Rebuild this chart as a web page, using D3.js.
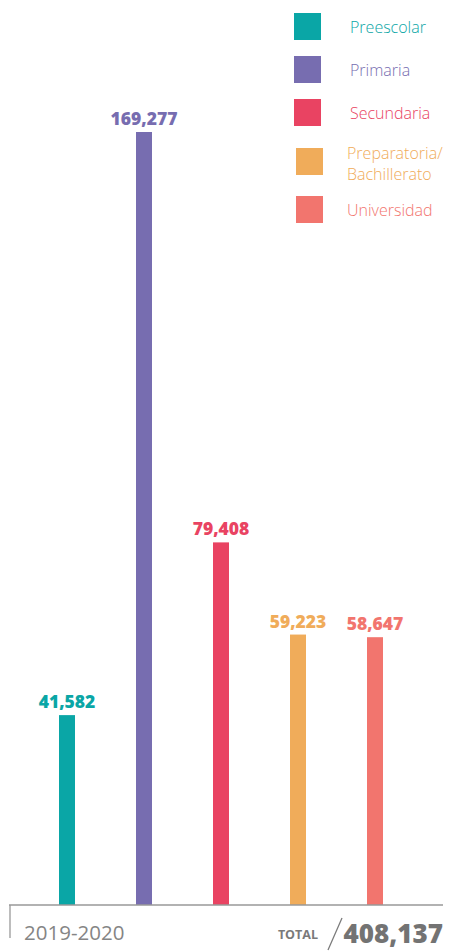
<!DOCTYPE html>
<html>
<head>
<meta charset="utf-8">
<script src="https://cdn.jsdelivr.net/npm/d3@7"></script>
<style>
  body { margin: 0; background: #fff; }
  svg { display: block; }
</style>
</head>
<body>
<svg width="451" height="951"></svg>
<script>
var categories = ["Preescolar", "Primaria", "Secundaria", "Preparatoria/Bachillerato", "Universidad"];
var legendLines = [["Preescolar"], ["Primaria"], ["Secundaria"], ["Preparatoria/", "Bachillerato"], ["Universidad"]];
var values = [41582, 169277, 79408, 59223, 58647];
var colors = ["#0aa6a6", "#776db0", "#e94362", "#f0ac5a", "#f2756e"];
var periodLabel = "2019-2020";
var totalLabel = "TOTAL";
var totalValue = 408137;

var svg = d3.select("svg");
var fmt = d3.format(",");

var scaleX = d3.scalePoint()
    .domain(categories)
    .range([67, 375]);

var scaleY = d3.scaleLinear()
    .domain([0, 169277])
    .range([905, 132]);

var color = d3.scaleOrdinal().domain(categories).range(colors);

var data = categories.map(function(c, i) { return { name: c, value: values[i], lines: legendLines[i] }; });

// bars
svg.selectAll("rect.bar")
    .data(data)
    .enter()
    .append("rect")
    .attr("class", "bar")
    .attr("x", function(d) { return scaleX(d.name) - 8; })
    .attr("width", 16)
    .attr("y", function(d) { return scaleY(d.value); })
    .attr("height", function(d) { return scaleY(0) - scaleY(d.value); })
    .attr("fill", function(d) { return color(d.name); });

// value labels
svg.selectAll("text.val")
    .data(data)
    .enter()
    .append("text")
    .attr("class", "val")
    .attr("x", function(d) { return scaleX(d.name); })
    .attr("y", function(d) { return scaleY(d.value) - 7; })
    .attr("text-anchor", "middle")
    .attr("font-family", "'Open Sans', sans-serif")
    .attr("font-weight", 800)
    .attr("font-size", 17.5)
    .attr("fill", function(d) { return color(d.name); })
    .text(function(d) { return fmt(d.value); });

// baseline
svg.append("line")
    .attr("x1", 9).attr("x2", 443)
    .attr("y1", scaleY(0)).attr("y2", scaleY(0))
    .attr("stroke", "#999").attr("stroke-width", 1.3);
svg.append("line")
    .attr("x1", 10).attr("x2", 10)
    .attr("y1", scaleY(0)).attr("y2", 938)
    .attr("stroke", "#999").attr("stroke-width", 1.3);

// legend
var legendY = [13, 56, 99, 148, 196];
var leg = svg.selectAll("g.leg")
    .data(data)
    .enter()
    .append("g")
    .attr("class", "leg")
    .attr("transform", function(d, i) { return "translate(" + (i > 2 ? 296 : 294) + "," + legendY[i] + ")"; });

leg.append("rect")
    .attr("width", 27).attr("height", 27)
    .attr("fill", function(d) { return color(d.name); });

leg.append("text")
    .attr("x", function(d, i) { return i > 2 ? 51 : 56; })
    .attr("y", function(d) { return d.lines.length > 1 ? 11 : 20; })
    .attr("font-family", "'Open Sans', sans-serif")
    .attr("font-weight", 300)
    .attr("font-size", 16)
    .attr("fill", function(d) { return color(d.name); })
    .selectAll("tspan")
    .data(function(d) { return d.lines; })
    .enter()
    .append("tspan")
    .attr("x", function() { return d3.select(this.parentNode).attr("x"); })
    .attr("dy", function(d, i) { return i ? 21 : 0; })
    .text(function(d) { return d; });

// footer
svg.append("text")
    .attr("x", 24).attr("y", 940)
    .attr("font-family", "'Open Sans', sans-serif")
    .attr("font-weight", 400)
    .attr("font-size", 20.5)
    .attr("fill", "#858585")
    .text(periodLabel);

svg.append("text")
    .attr("x", 318).attr("y", 939)
    .attr("text-anchor", "end")
    .attr("font-family", "'Open Sans', sans-serif")
    .attr("font-weight", 700)
    .attr("font-size", 12.5)
    .attr("fill", "#7a7a7a")
    .text(totalLabel);

svg.append("line")
    .attr("x1", 328).attr("y1", 950)
    .attr("x2", 342).attr("y2", 918)
    .attr("stroke", "#7a7a7a").attr("stroke-width", 1.3);

svg.append("text")
    .attr("x", 443).attr("y", 943)
    .attr("text-anchor", "end")
    .attr("font-family", "'Open Sans', sans-serif")
    .attr("font-weight", 800)
    .attr("font-size", 26)
    .attr("fill", "#737373")
    .text(fmt(totalValue));
</script>
</body>
</html>
